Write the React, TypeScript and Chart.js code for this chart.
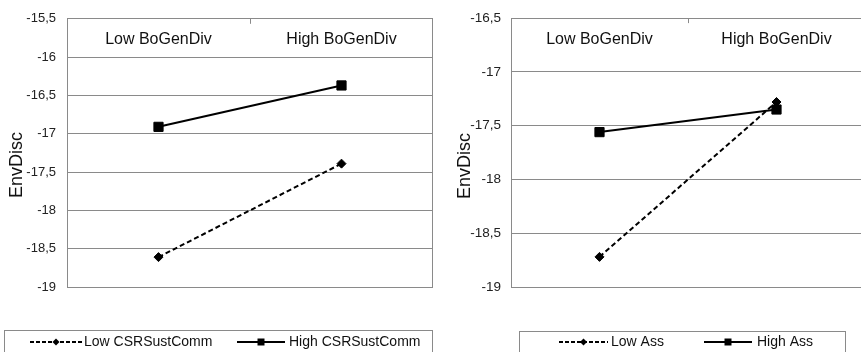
import React, { useEffect, useRef } from "react";
import { Chart, registerables } from "chart.js";
Chart.register(...registerables);

// ---------- data ----------
const categories = ["Low BoGenDiv", "High BoGenDiv"];
const yTitle = "EnvDisc";

const leftSeriesNames = ["Low CSRSustComm", "High CSRSustComm"];
const leftLow = [-18.61, -17.39];
const leftHigh = [-16.91, -16.37];
const leftYMin = -19;
const leftYMax = -15.5;

const rightSeriesNames = ["Low Ass", "High Ass"];
const rightLow = [-18.72, -17.28];
const rightHigh = [-17.56, -17.35];
const rightYMin = -19;
const rightYMax = -16.5;

const yStep = 0.5;

// ---------- style ----------
const FONT = '"Liberation Sans", Arial, Helvetica, sans-serif';
const GRID = "#8a8a8a";
const INK = "#111111";

function drawMarker(ctx: CanvasRenderingContext2D, style: string, x: number, y: number, half: number) {
  ctx.beginPath();
  if (style === "rectRot") {
    ctx.moveTo(x, y - half);
    ctx.lineTo(x + half, y);
    ctx.lineTo(x, y + half);
    ctx.lineTo(x - half, y);
    ctx.closePath();
  } else {
    ctx.rect(x - half, y - half, half * 2, half * 2);
  }
  ctx.fill();
}

const overlayPlugin = {
  id: "overlay",
  afterDraw(chart: any, _args: any, opts: any) {
    const { ctx, chartArea } = chart;
    const xs = chart.scales.x;
    const labels: string[] = chart.data.labels;
    ctx.save();

    // right border of plot area
    ctx.strokeStyle = GRID;
    ctx.lineWidth = 1;
    ctx.beginPath();
    const rx = Math.round(chartArea.right) - 0.5;
    ctx.moveTo(rx, chartArea.top);
    ctx.lineTo(rx, chartArea.bottom);
    ctx.stroke();

    // category boundary tick marks at top
    for (let i = 1; i < labels.length; i++) {
      const bx = Math.round((xs.getPixelForValue(i - 1) + xs.getPixelForValue(i)) / 2) + 0.5;
      ctx.beginPath();
      ctx.moveTo(bx, chartArea.top);
      ctx.lineTo(bx, chartArea.top + 5);
      ctx.stroke();
    }

    // category labels inside the top of plot
    ctx.fillStyle = INK;
    ctx.font = `16px ${FONT}`;
    ctx.textAlign = "center";
    ctx.textBaseline = "middle";
    labels.forEach((l, i) => ctx.fillText(l, xs.getPixelForValue(i), chartArea.top + 21));

    // y title
    ctx.save();
    ctx.translate(opts.titleX, opts.titleY);
    ctx.rotate(-Math.PI / 2);
    ctx.font = `18px ${FONT}`;
    ctx.fillText(opts.title, 0, 0);
    ctx.restore();

    // legend
    const b = opts.legendBox;
    ctx.strokeStyle = GRID;
    ctx.lineWidth = 1;
    ctx.strokeRect(b.x + 0.5, b.y + 0.5, b.w, b.h);
    ctx.font = `14px ${FONT}`;
    ctx.textAlign = "left";
    chart.data.datasets.forEach((ds: any, i: number) => {
      const it = opts.legendItems[i];
      const ly = opts.legendY;
      ctx.strokeStyle = ds.borderColor;
      ctx.lineWidth = 2;
      ctx.setLineDash(ds.borderDash && ds.borderDash.length ? [4, 2] : []);
      ctx.beginPath();
      ctx.moveTo(it.x0, ly);
      ctx.lineTo(it.x1, ly);
      ctx.stroke();
      ctx.setLineDash([]);
      ctx.fillStyle = ds.pointBackgroundColor;
      drawMarker(ctx, ds.pointStyle, (it.x0 + it.x1) / 2, ly, 3.5);
      ctx.fillStyle = INK;
      ctx.fillText(ds.label, it.tx, ly);
    });

    ctx.restore();
  },
};

type Cfg = {
  names: string[];
  low: number[];
  high: number[];
  yMin: number;
  yMax: number;
  axisWidth: number;
  labelPad: number;
  titleX: number;
  titleY: number;
  legendBox: { x: number; y: number; w: number; h: number };
  legendItems: { x0: number; x1: number; tx: number }[];
  legendY: number;
  tickSize: number;
};

function Panel({ cfg, width, left }: { cfg: Cfg; width: number; left: number }) {
  const ref = useRef<HTMLCanvasElement | null>(null);
  useEffect(() => {
    if (!ref.current) return;
    const chart = new Chart(ref.current, {
      type: "line",
      data: {
        labels: categories,
        datasets: [
          {
            label: cfg.names[0],
            data: cfg.low,
            borderColor: "#000",
            backgroundColor: "#000",
            pointBackgroundColor: "#000",
            pointBorderColor: "#000",
            borderWidth: 2,
            borderDash: [5, 3],
            pointStyle: "rectRot",
            pointRadius: 4.5,
            pointBorderWidth: 1,
            order: 1,
          } as any,
          {
            label: cfg.names[1],
            data: cfg.high,
            borderColor: "#000",
            backgroundColor: "#000",
            pointBackgroundColor: "#000",
            pointBorderColor: "#000",
            borderWidth: 2,
            borderDash: [],
            pointStyle: "rect",
            pointRadius: 6.5,
            pointBorderWidth: 1,
            order: 0,
          } as any,
        ],
      },
      options: {
        responsive: false,
        animation: false,
        devicePixelRatio: 1,
        layout: { autoPadding: false, padding: { top: 15, bottom: 65, left: 0, right: 0 } },
        plugins: {
          legend: { display: false },
          tooltip: { enabled: false },
          overlay: {
            title: yTitle,
            titleX: cfg.titleX,
            titleY: cfg.titleY,
            legendBox: cfg.legendBox,
            legendItems: cfg.legendItems,
            legendY: cfg.legendY,
          },
        } as any,
        scales: {
          x: {
            type: "category",
            offset: true,
            display: false,
            ticks: { display: false },
            grid: { display: false },
          },
          y: {
            min: cfg.yMin,
            max: cfg.yMax,
            afterFit: (s: any) => {
              s.width = cfg.axisWidth;
            },
            grid: { color: GRID, lineWidth: 1, drawTicks: false },
            border: { display: true, color: GRID, width: 1 },
            ticks: {
              stepSize: yStep,
              padding: cfg.labelPad,
              color: "#222",
              font: { family: FONT, size: cfg.tickSize },
              callback: (v: any) => String(v).replace(".", ","),
            },
          },
        },
      },
      plugins: [overlayPlugin],
    });
    return () => chart.destroy();
  }, []);
  return (
    <canvas
      ref={ref}
      width={width}
      height={352}
      style={{ position: "absolute", left, top: 0, width, height: 352, display: "block" }}
    />
  );
}

const leftCfg: Cfg = {
  names: leftSeriesNames,
  low: leftLow,
  high: leftHigh,
  yMin: leftYMin,
  yMax: leftYMax,
  axisWidth: 67,
  labelPad: 11,
  titleX: 17,
  titleY: 165,
  legendBox: { x: 4, y: 330, w: 428, h: 40 },
  legendItems: [
    { x0: 30, x1: 82, tx: 84 },
    { x0: 237, x1: 285, tx: 289 },
  ],
  legendY: 342,
  tickSize: 13,
};

const rightCfg: Cfg = {
  names: rightSeriesNames,
  low: rightLow,
  high: rightHigh,
  yMin: rightYMin,
  yMax: rightYMax,
  axisWidth: 81,
  labelPad: 10,
  titleX: 35,
  titleY: 166,
  legendBox: { x: 89, y: 331, w: 326, h: 40 },
  legendItems: [
    { x0: 129, x1: 178, tx: 181 },
    { x0: 274, x1: 322, tx: 327 },
  ],
  legendY: 342,
  tickSize: 13.5,
};

export default function App() {
  return (
    <div
      style={{
        position: "fixed",
        left: 0,
        top: 0,
        width: 861,
        height: 352,
        overflow: "hidden",
        background: "#fff",
      }}
    >
      <Panel cfg={leftCfg} width={433} left={0} />
      <Panel cfg={rightCfg} width={435} left={430} />
    </div>
  );
}
